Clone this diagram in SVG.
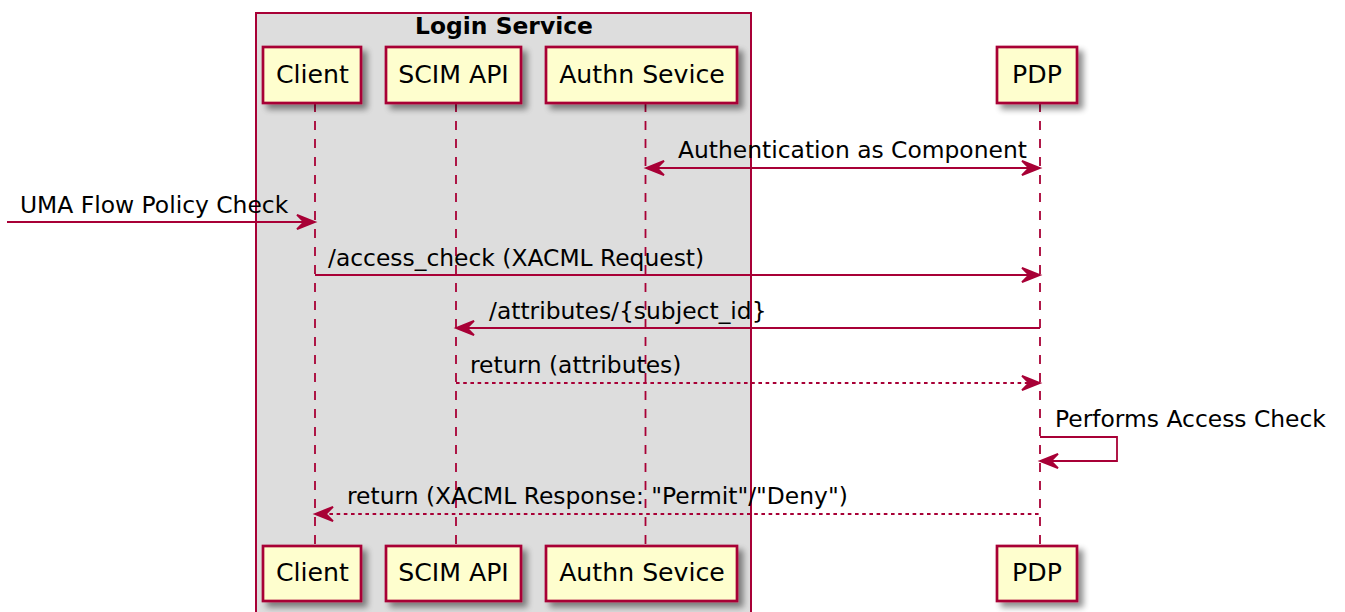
<svg xmlns="http://www.w3.org/2000/svg" width="1345" height="612" viewBox="0 0 1345 612">
<defs>
<filter id="sh" x="-20%" y="-20%" width="150%" height="160%">
<feGaussianBlur in="SourceAlpha" stdDeviation="3"/>
<feOffset dx="5" dy="5" result="b"/>
<feComponentTransfer><feFuncA type="linear" slope="0.45"/></feComponentTransfer>
<feMerge><feMergeNode/><feMergeNode in="SourceGraphic"/></feMerge>
</filter>
</defs>
<style>
text{font-family:"DejaVu Sans","Liberation Sans",sans-serif;font-size:23.4px;fill:#000}
.title{font-weight:bold;text-anchor:middle}
.pt{text-anchor:middle;font-size:25.2px}
.box{fill:#FEFECE;stroke:#A80036;stroke-width:2.7;filter:url(#sh)}
.life{stroke:#A80036;stroke-width:1.8;stroke-dasharray:9,9;fill:none}
.msg{stroke:#A80036;stroke-width:1.8;fill:none}
.dot{stroke-dasharray:3.6,3.6}
.head{fill:#A80036;stroke:#A80036;stroke-width:1.8;stroke-linejoin:miter}
</style>
<g id="group-login-service">
<rect x="256" y="13" width="495" height="620" fill="#DDDDDD" stroke="#A80036" stroke-width="2"/>
<text class="title" x="504" y="34">Login Service</text>
</g>
<g id="lifelines">
<line class="life" x1="315" y1="103" x2="315" y2="546"/>
<line class="life" x1="456" y1="103" x2="456" y2="546"/>
<line class="life" x1="645.5" y1="103" x2="645.5" y2="546"/>
<line class="life" x1="1040" y1="103" x2="1040" y2="546"/>
</g>
<g id="node-client">
<rect class="box" x="263" y="47" width="98" height="56"/>
<text class="pt" x="312.5" y="83">Client</text>
<rect class="box" x="263" y="546" width="98" height="55"/>
<text class="pt" x="312.5" y="581">Client</text>
</g>
<g id="node-scim">
<rect class="box" x="386" y="47" width="135" height="56"/>
<text class="pt" x="453.5" y="83">SCIM API</text>
<rect class="box" x="386" y="546" width="135" height="55"/>
<text class="pt" x="453.5" y="581">SCIM API</text>
</g>
<g id="node-authn">
<rect class="box" x="546" y="47" width="191" height="56"/>
<text class="pt" x="642" y="83">Authn Sevice</text>
<rect class="box" x="546" y="546" width="191" height="55"/>
<text class="pt" x="642" y="581">Authn Sevice</text>
</g>
<g id="node-pdp">
<rect class="box" x="997" y="47" width="80" height="56"/>
<text class="pt" x="1037" y="83">PDP</text>
<rect class="box" x="997" y="546" width="80" height="55"/>
<text class="pt" x="1037" y="581">PDP</text>
</g>
<g id="connectors">
<line class="msg" x1="646" y1="168" x2="1040" y2="168"/>
<polygon class="head" points="646,168 664,160.8 656.8,168 664,175.2"/>
<polygon class="head" points="1040,168 1022,160.8 1029.2,168 1022,175.2"/>
<text x="678" y="158">Authentication as Component</text>

<line class="msg" x1="7" y1="222" x2="315" y2="222"/>
<polygon class="head" points="315,222 297,214.8 304.2,222 297,229.2"/>
<text x="20" y="213">UMA Flow Policy Check</text>

<line class="msg" x1="315" y1="275" x2="1040" y2="275"/>
<polygon class="head" points="1040,275 1022,267.8 1029.2,275 1022,282.2"/>
<text x="328" y="266">/access_check (XACML Request)</text>

<line class="msg" x1="456" y1="328" x2="1040" y2="328"/>
<polygon class="head" points="456,328 474,320.8 466.8,328 474,335.2"/>
<text x="489" y="319">/attributes/{subject_id}</text>

<line class="msg dot" x1="456" y1="383" x2="1040" y2="383"/>
<polygon class="head" points="1040,383 1022,375.8 1029.2,383 1022,390.2"/>
<text x="470" y="373">return (attributes)</text>

<polyline class="msg" points="1040,437 1117,437 1117,461 1040,461"/>
<polygon class="head" points="1040,461 1058,453.8 1050.8,461 1058,468.2"/>
<text x="1055" y="427">Performs Access Check</text>

<line class="msg dot" x1="315" y1="514" x2="1040" y2="514"/>
<polygon class="head" points="315,514 333,506.8 325.8,514 333,521.2"/>
<text x="347" y="504">return (XACML Response: "Permit"/"Deny")</text>
</g>
</svg>
